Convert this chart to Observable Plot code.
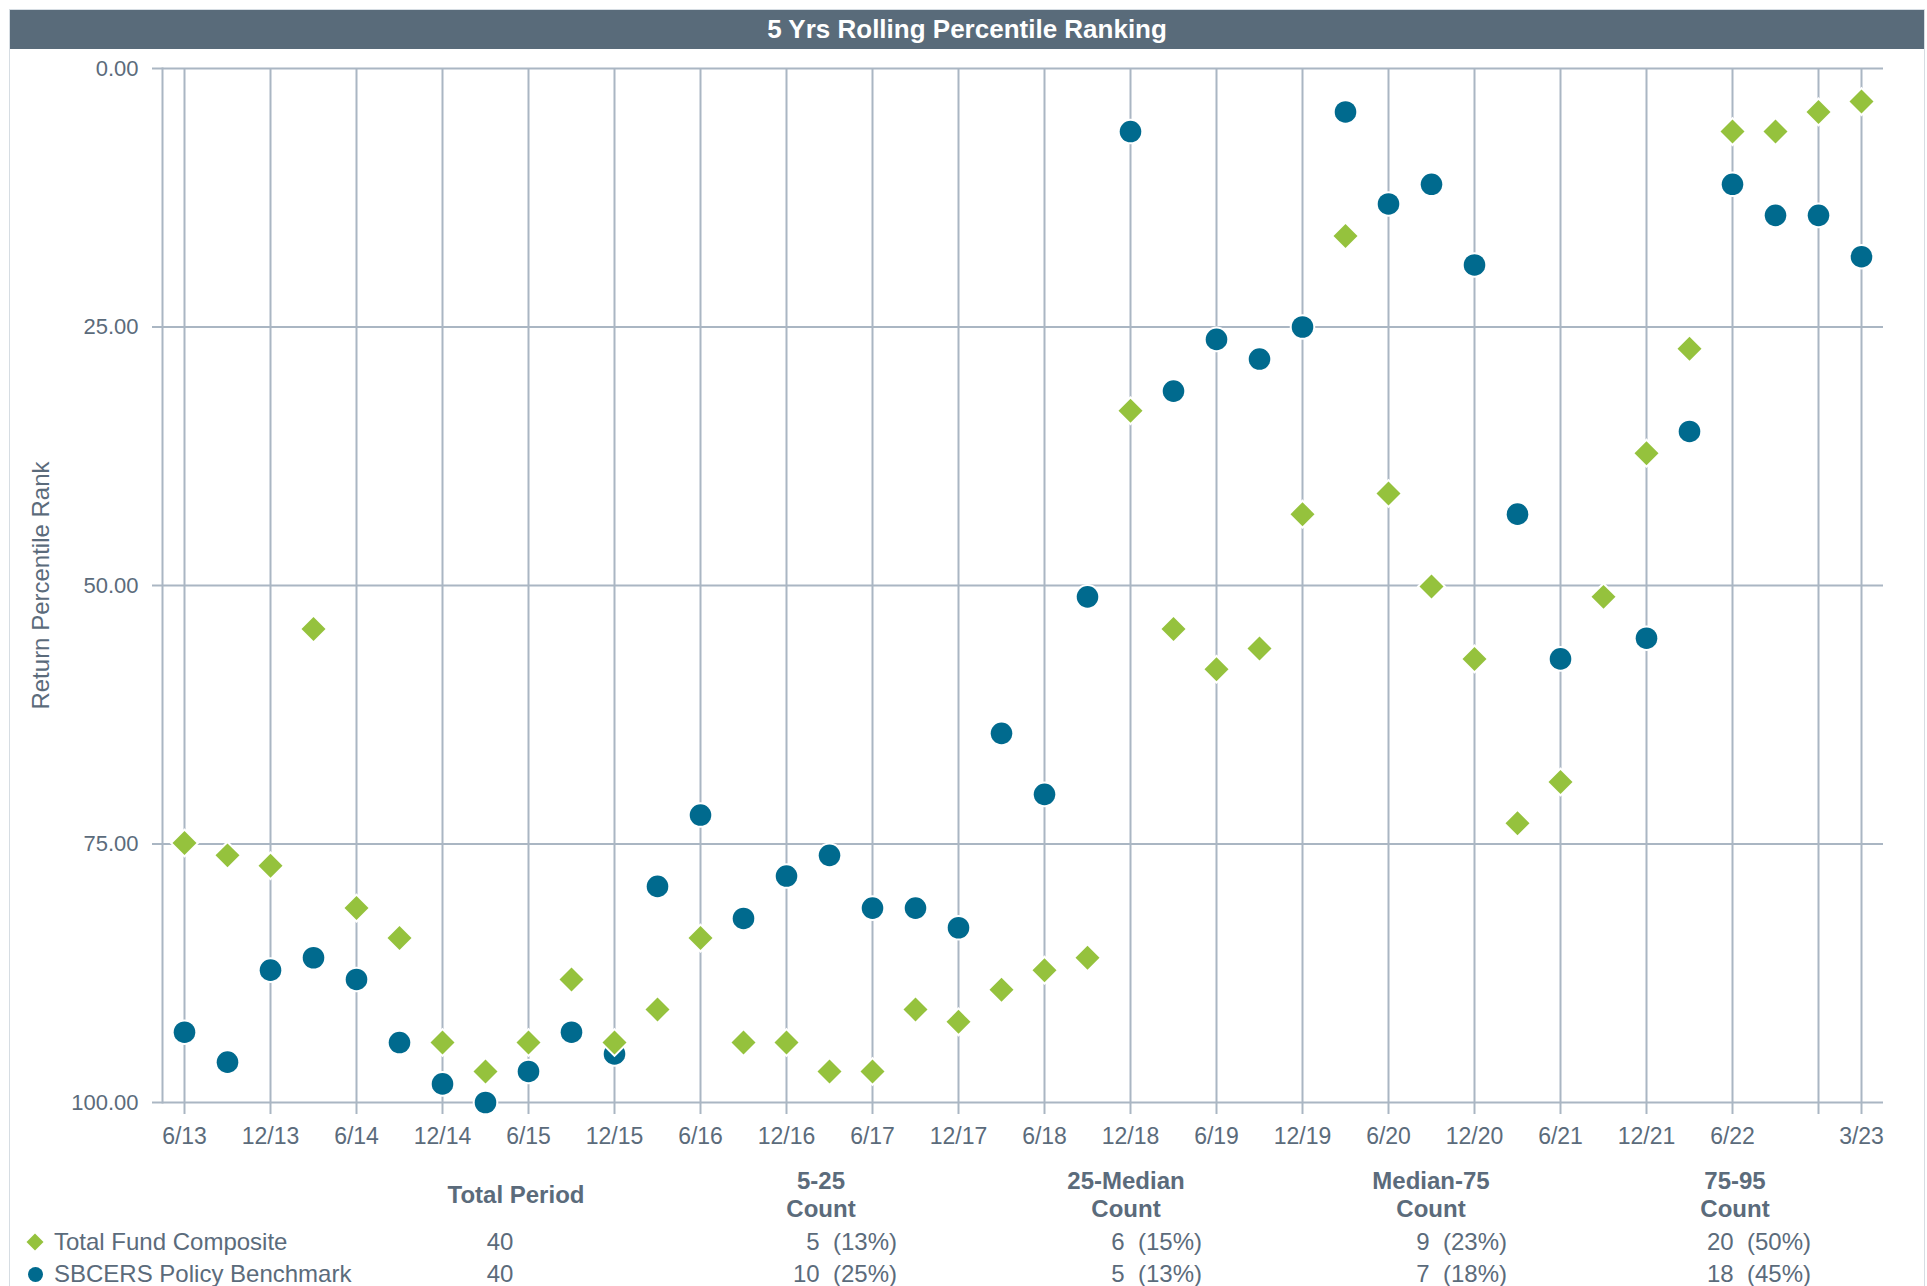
<!DOCTYPE html>
<html><head><meta charset="utf-8">
<script src="https://cdn.jsdelivr.net/npm/d3@7"></script>
<script src="https://cdn.jsdelivr.net/npm/@observablehq/plot@0.6"></script>
<style>
html,body{margin:0;padding:0;background:#fff;}
body{width:1927px;height:1286px;overflow:hidden;position:relative;font-family:"Liberation Sans",Arial,sans-serif;color:#5b6b7b;}
#box{position:absolute;left:9px;top:9px;width:1916px;height:1300px;border:1px solid #d6dde3;box-sizing:border-box;}
#title{position:absolute;left:10px;top:10px;width:1914px;height:39px;background:#596b7a;color:#fff;font-weight:bold;font-size:26px;line-height:39px;text-align:center;}
#chart{position:absolute;left:0;top:49px;}
.t{position:absolute;white-space:pre;font-size:24px;line-height:28px;}
.b{font-weight:bold;text-align:center;}
.sym{position:absolute;}
</style></head><body>
<div id="box"></div>
<div id="title">5 Yrs Rolling Percentile Ranking</div>
<div id="chart"></div>
<div id="table"></div>
<script>
// ---- data ----
const quarters = ["6/13","9/13","12/13","3/14","6/14","9/14","12/14","3/15","6/15","9/15","12/15","3/16","6/16","9/16","12/16","3/17","6/17","9/17","12/17","3/18","6/18","9/18","12/18","3/19","6/19","9/19","12/19","3/20","6/20","9/20","12/20","3/21","6/21","9/21","12/21","3/22","6/22","9/22","12/22","3/23"];
const totalFundRank = [74.9,76.1,77.1,54.2,81.2,84.1,94.2,97.0,94.2,88.1,94.2,91.0,84.1,94.2,94.2,97.0,97.0,91.0,92.2,89.1,87.2,86.0,33.1,54.2,58.1,56.1,43.1,16.2,41.1,50.1,57.1,73.0,69.0,51.1,37.2,27.1,6.1,6.1,4.2,3.2];
const benchmarkRank = [93.2,96.1,87.2,86.0,88.1,94.2,98.2,100,97.0,93.2,95.3,79.1,72.2,82.2,78.1,76.1,81.2,81.2,83.1,64.3,70.2,51.1,6.1,31.2,26.2,28.1,25.0,4.2,13.1,11.2,19.0,43.1,57.1,null,55.1,35.1,11.2,14.2,14.2,18.2];
const xTickLabels = ["6/13","12/13","6/14","12/14","6/15","12/15","6/16","12/16","6/17","12/17","6/18","12/18","6/19","12/19","6/20","12/20","6/21","12/21","6/22","12/22","3/23"];
const unlabeledTicks = ["12/22"];
const yTicks = [0,25,50,75,100];
const title = "5 Yrs Rolling Percentile Ranking";
const yLabel = "Return Percentile Rank";
const seriesNames = ["Total Fund Composite","SBCERS Policy Benchmark"];
const totalPeriod = [40,40];
const columnHeaders = ["Total Period","5-25\nCount","25-Median\nCount","Median-75\nCount","75-95\nCount"];
const bucketCounts = [[5,6,9,20],[10,5,7,18]];
const bucketPct = [["13%","15%","23%","50%"],["25%","13%","18%","45%"]];

// ---- style ----
const ink = "#5b6b7b", gridC = "#aab6c3", blue = "#006a8e", green = "#95c23d";
const font = '"Liberation Sans", Arial, sans-serif';

const rows = quarters.map((q,i)=>({q, tfc: totalFundRank[i], bm: benchmarkRank[i]}));

const plot = Plot.plot({
  width: 1927, height: 1110,
  marginLeft: 162, marginRight: 44, marginTop: 19, marginBottom: 57,
  style: {fontFamily: font, color: ink, background: "transparent", overflow: "visible"},
  x: {type: "point", domain: quarters, padding: 0.5},
  y: {domain: [0,100], reverse: true},
  marks: [
    Plot.gridY(yTicks, {stroke: gridC, strokeOpacity: 1, strokeWidth: 2}),
    Plot.gridX(xTickLabels, {stroke: gridC, strokeOpacity: 1, strokeWidth: 2}),
    Plot.frame({anchor: "left", stroke: gridC, strokeWidth: 2}),
    Plot.axisY(yTicks, {tickFormat: d3.format(".2f"), tickSize: 10, tickPadding: 14, fontSize: 22, stroke: gridC, strokeWidth: 2, fill: ink, label: null}),
    Plot.axisX(xTickLabels, {tickFormat: d => unlabeledTicks.includes(d) ? "" : d, tickSize: 12, tickPadding: 13, fontSize: 23, stroke: gridC, strokeWidth: 2, fill: ink, label: null}),
    Plot.text([yLabel], {frameAnchor: "left", textAnchor: "middle", rotate: -90, dx: -121, fontSize: 24, fill: ink}),
    Plot.dot(rows.filter(d => d.bm != null), {x: "q", y: "bm", r: 10.8, fill: blue, stroke: "white", strokeWidth: 4, paintOrder: "stroke"}),
    Plot.dot(rows, {x: "q", y: "tfc", symbol: "diamond2", r: 10.8, fill: green, stroke: "white", strokeWidth: 4, paintOrder: "stroke"})
  ]
});
document.getElementById("chart").appendChild(plot);
document.getElementById("title").textContent = title;

// ---- table below the chart ----
const tbl = document.getElementById("table");
function add(text, css, cls){
  const d = document.createElement("div");
  d.className = "t " + (cls||"");
  d.textContent = text;
  Object.assign(d.style, css);
  tbl.appendChild(d);
  return d;
}
const headerCenters = [516, 821, 1126, 1431, 1735];
columnHeaders.forEach((h,i)=>{
  const lines = h.split("\n").length;
  const cy = 1195;
  add(h, {left: (headerCenters[i]-150)+"px", width: "300px", top: (cy - lines*14)+"px"}, "b");
});
const rowCenters = [1242, 1274];
const valueRights = [897, 1202, 1507, 1811];
seriesNames.forEach((name,r)=>{
  const cy = rowCenters[r];
  const s = document.createElement("div");
  s.className = "sym";
  if (r === 0) Object.assign(s.style, {left: (35-6)+"px", top: (cy-6)+"px", width: "12px", height: "12px", background: green, transform: "rotate(45deg)"});
  else Object.assign(s.style, {left: (35-7.5)+"px", top: (cy-7.5)+"px", width: "15px", height: "15px", background: blue, borderRadius: "50%"});
  tbl.appendChild(s);
  add(name, {left: "54px", top: (cy-14)+"px"});
  add(String(totalPeriod[r]), {left: (500-50)+"px", width: "100px", top: (cy-14)+"px", textAlign: "center"});
  bucketCounts[r].forEach((c,j)=>{
    add(c + "  (" + bucketPct[r][j] + ")", {left: (valueRights[j]-200)+"px", width: "200px", top: (cy-14)+"px", textAlign: "right"});
  });
});
</script>
</body></html>
